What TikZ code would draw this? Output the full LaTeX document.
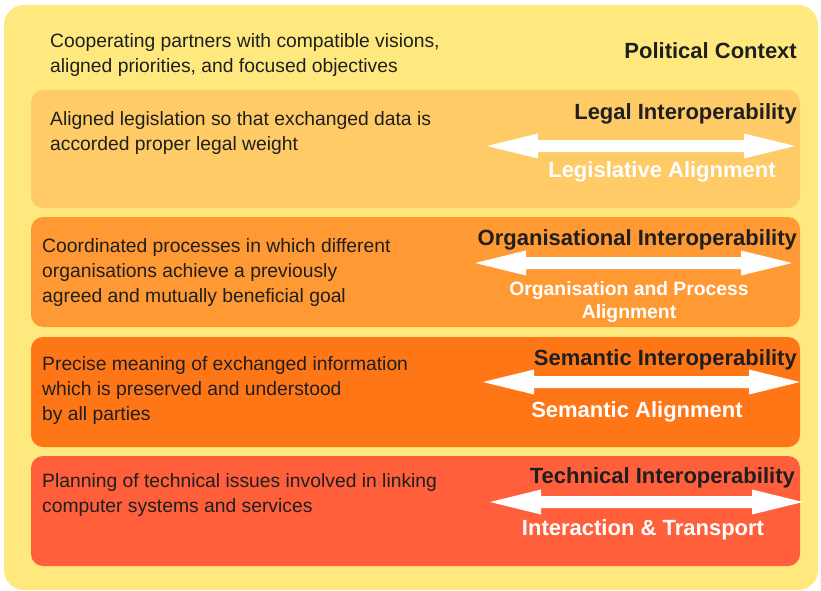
\documentclass[tikz,border=0pt]{standalone}
\usepackage{fontspec}
\setmainfont{Liberation Sans}

\definecolor{politicalbg}{HTML}{FFE97F}
\definecolor{legalbg}{HTML}{FECB66}
\definecolor{orgbg}{HTML}{FF9933}
\definecolor{semanticbg}{HTML}{FF7617}
\definecolor{technicalbg}{HTML}{FF5F3A}

\tikzset{
  desc/.style={anchor=base west, align=left, inner sep=0pt, text=black!88,
    font=\fontsize{19.3}{25}\selectfont},
  layertitle/.style={anchor=base east, inner sep=0pt, text=black!88,
    font=\fontsize{22}{25}\selectfont\bfseries},
  alignlbl/.style={anchor=base, inner sep=0pt, text=white, align=center,
    font=\fontsize{22}{23}\selectfont\bfseries},
}

% white two-way arrow: #1 = y, #2 = left tip, #3 = right tip
\newcommand{\twoway}[3]{%
  \fill[white] (#2,#1) -- (#2+51,#1-12.5) -- (#2+51,#1-6) -- (#3-51,#1-6)
    -- (#3-51,#1-12.5) -- (#3,#1) -- (#3-51,#1+12.5) -- (#3-51,#1+6)
    -- (#2+51,#1+6) -- (#2+51,#1+12.5) -- cycle;}

\begin{document}
\begin{tikzpicture}[x=1pt,y=-1pt]
\useasboundingbox (0,0) rectangle (821,591);

\fill [politicalbg, rounded corners=20pt] (4,5) rectangle (818,590);
\fill [legalbg, rounded corners=12pt] (31,90) rectangle (800,208);
\fill [orgbg, rounded corners=12pt] (31,217) rectangle (800,327);
\fill [semanticbg, rounded corners=12pt] (31,337) rectangle (800,447);
\fill [technicalbg, rounded corners=12pt] (31,456) rectangle (800,566);

% political context (multi-line nodes sit on their last baseline)
\node [desc] (poltext) at (50,73) {Cooperating partners with compatible visions,\\aligned priorities, and focused objectives};
\node [layertitle] (poltitle) at (797,59) {Political Context};

% legal
\node [desc] (legtext) at (50,150) {Aligned legislation so that exchanged data is\\accorded proper legal weight};
\node [layertitle] (legtitle) at (797,120) {Legal Interoperability};
\twoway{146}{487}{795}
\node [alignlbl] (legalign) at (662,177) {Legislative Alignment};

% organisational
\node [desc] (orgtext) at (42,302) {Coordinated processes in which different\\organisations achieve a previously\\agreed and mutually beneficial goal};
\node [layertitle] (orgtitle) at (797,245) {Organisational Interoperability};
\twoway{263}{475}{792}
\node [alignlbl, font=\fontsize{19.3}{23}\selectfont\bfseries] (orgalign) at (629,318) {Organisation and Process\\Alignment};

% semantic
\node [desc] (semtext) at (42,420) {Precise meaning of exchanged information\\which is preserved and understood\\by all parties};
\node [layertitle] (semtitle) at (797,365) {Semantic Interoperability};
\twoway{382}{483}{800}
\node [alignlbl] (semalign) at (637,417) {Semantic Alignment};

% technical
\node [desc] (techtext) at (42,512) {Planning of technical issues involved in linking\\computer systems and services};
\node [layertitle] (techtitle) at (795,483) {Technical Interoperability};
\twoway{502}{490}{803}
\node [alignlbl] (techalign) at (643,535) {Interaction \& Transport};
\end{tikzpicture}
\end{document}
